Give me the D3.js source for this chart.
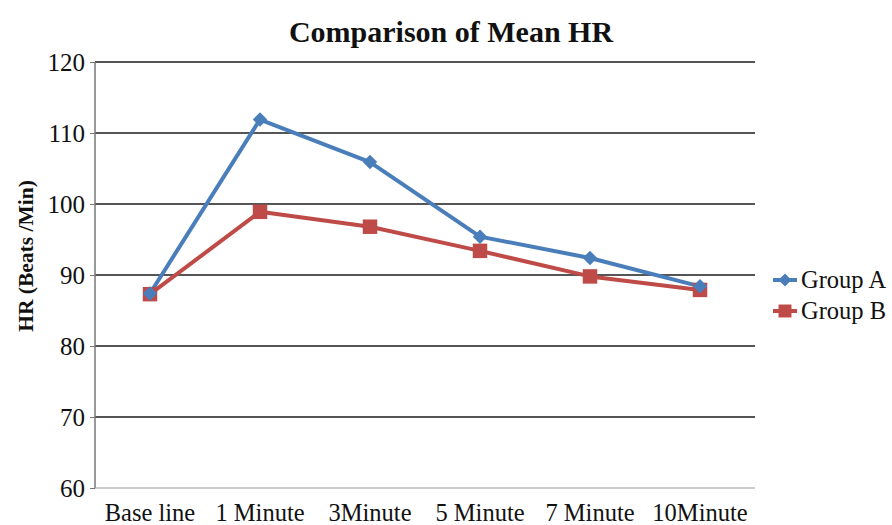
<!DOCTYPE html>
<html>
<head>
<meta charset="utf-8">
<script src="https://cdn.jsdelivr.net/npm/d3@7"></script>
<style>
  body { margin: 0; background: #fff; }
  text { font-family: "Liberation Serif", "Times New Roman", serif; fill: #111; }
</style>
</head>
<body>
<div id="chart"></div>
<script>
var categories = ['Base line', '1 Minute', '3Minute', '5 Minute', '7 Minute', '10Minute']
var groupA = [87.4, 111.9, 105.9, 95.4, 92.4, 88.4]
var groupB = [87.3, 98.9, 96.8, 93.4, 89.8, 87.9]
var yTicks = [60, 70, 80, 90, 100, 110, 120]
var seriesNames = ['Group A', 'Group B']

var width = 892, height = 525
var margin = {top: 62, right: 137, bottom: 37, left: 95}
var plotW = width - margin.left - margin.right
var plotH = height - margin.top - margin.bottom

var svg = d3.select('#chart').append('svg')
    .attr('width', width)
    .attr('height', height)

svg.append('text')
    .attr('x', 451).attr('y', 42)
    .attr('text-anchor', 'middle')
    .attr('font-size', 30).attr('font-weight', 'bold')
    .text('Comparison of Mean HR')

var g = svg.append('g').attr('transform', 'translate(' + margin.left + ',' + margin.top + ')')

var x = d3.scaleBand().domain(categories).range([0, plotW])
var y = d3.scaleLinear().domain([60, 120]).range([plotH, 0])

// gridlines
g.append('g').selectAll('line')
  .data(yTicks.filter(function (d) { return d > 60 }))
  .enter().append('line')
    .attr('x1', 0).attr('x2', plotW)
    .attr('y1', function (d) { return y(d) }).attr('y2', function (d) { return y(d) })
    .attr('stroke', '#555').attr('stroke-width', 2)

// frame: left and bottom
g.append('line').attr('x1', 0).attr('x2', 0).attr('y1', 0).attr('y2', plotH)
    .attr('stroke', '#777').attr('stroke-width', 1.5)
g.append('line').attr('x1', 0).attr('x2', plotW).attr('y1', plotH).attr('y2', plotH)
    .attr('stroke', '#999').attr('stroke-width', 1.2)

var yAxis = g.append('g')
    .call(d3.axisLeft(y).tickValues(yTicks).tickSize(5).tickPadding(5))
yAxis.select('.domain').remove()
yAxis.selectAll('line').attr('stroke', '#777')
yAxis.selectAll('text').attr('font-size', 25).attr('fill', '#222')

var xAxis = g.append('g')
    .attr('transform', 'translate(0,' + plotH + ')')
    .call(d3.axisBottom(x).tickSize(0).tickPadding(16))
xAxis.select('.domain').remove()
xAxis.selectAll('text').attr('font-size', 24.5).attr('fill', '#111')

svg.append('text')
    .attr('transform', 'translate(33,256) rotate(-90)')
    .attr('text-anchor', 'middle')
    .attr('font-size', 21.5).attr('font-weight', 'bold')
    .text('HR (Beats /Min)')

var line = d3.line()
    .x(function (d, i) { return x(categories[i]) + x.bandwidth() / 2 })
    .y(function (d) { return y(d) })

// diamond = square turned 45 degrees
var series = [
  {name: seriesNames[0], values: groupA, color: '#4a7ebb', size: 105, rot: 45},
  {name: seriesNames[1], values: groupB, color: '#be4b48', size: 210, rot: 0}
]

series.forEach(function (s) {
  g.append('path')
    .datum(s.values)
    .attr('d', line)
    .attr('fill', 'none')
    .attr('stroke', s.color)
    .attr('stroke-width', 4)
    .attr('stroke-linejoin', 'round')
})

// markers drawn after lines
series.slice().reverse().forEach(function (s) {
  g.append('g').selectAll('path')
    .data(s.values)
    .enter().append('path')
      .attr('d', d3.symbol().type(d3.symbolSquare).size(s.size))
      .attr('transform', function (d, i) {
        return 'translate(' + (x(categories[i]) + x.bandwidth() / 2) + ',' + y(d) + ') rotate(' + s.rot + ')'
      })
      .attr('fill', s.color)
})

// legend
var legend = svg.append('g').attr('transform', 'translate(773,280)')
series.forEach(function (s, i) {
  var row = legend.append('g').attr('transform', 'translate(0,' + (i * 31) + ')')
  row.append('line').attr('x1', 0).attr('x2', 24).attr('y1', 0).attr('y2', 0)
    .attr('stroke', s.color).attr('stroke-width', 4)
  row.append('path').attr('d', d3.symbol().type(d3.symbolSquare).size(s.size * 0.8))
    .attr('transform', 'translate(12,0) rotate(' + s.rot + ')').attr('fill', s.color)
  row.append('text').attr('x', 28).attr('y', 8)
    .attr('font-size', 24.5).text(s.name)
})
</script>
</body>
</html>
